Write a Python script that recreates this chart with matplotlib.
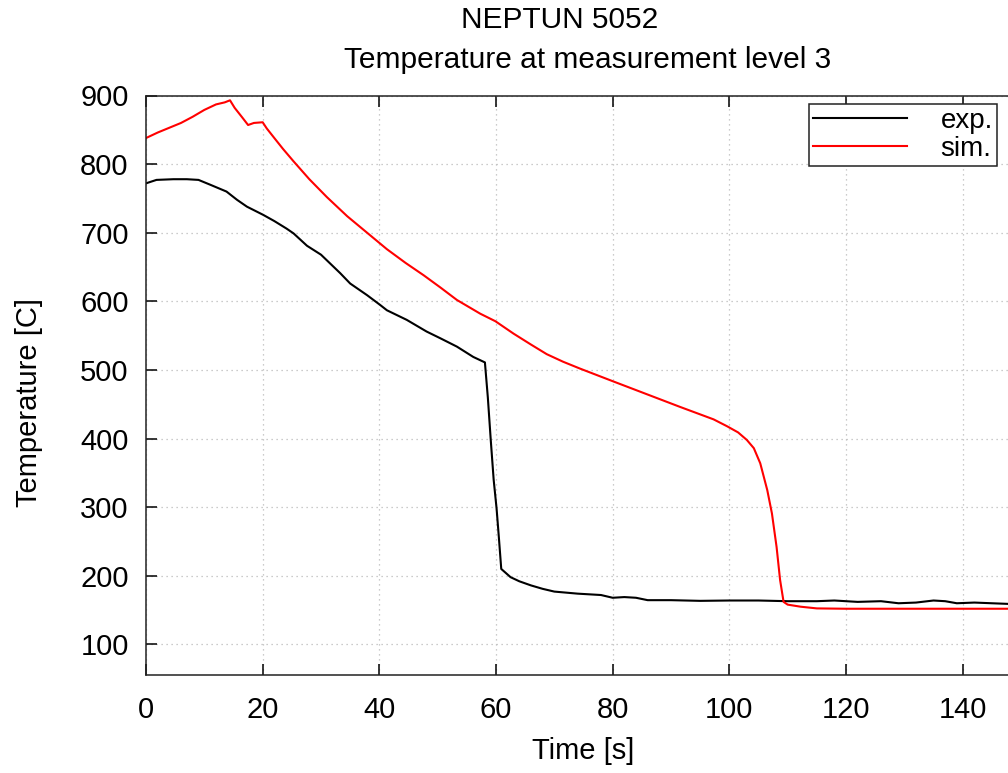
import matplotlib
matplotlib.use("Agg")
import matplotlib.pyplot as plt

# -----------------------
# Data
# -----------------------
t_exp = [0, 1.8, 4.7, 7, 9, 11, 13.8, 15.6, 17.3, 20.1, 22, 24.1, 25.3, 27.6,
         30, 33.3, 35, 37.9, 40.1, 41.3, 44.7, 48.1, 50.5, 53.3, 56.1, 58.1,
         58.6, 59.1, 59.6, 60.1, 60.5, 60.9, 62.5, 64, 66, 68, 70, 74, 78, 80,
         82, 84, 86, 90, 95, 100, 105, 110, 115, 118, 122, 126, 129, 132, 135,
         137, 139, 142, 145, 148, 150]
T_exp = [772, 777, 778, 778, 777, 770, 760, 748, 738, 726, 717, 706, 699, 681,
         668, 641, 626, 609, 595, 587, 573, 556, 546, 534, 519, 511,
         460, 398, 340, 298, 255, 210, 198, 192, 186, 181, 177, 174, 172, 168,
         169, 168, 164.5, 164.5, 163.5, 164, 164, 163, 163, 164, 162, 163, 160,
         161, 164, 163, 160, 161, 160, 159, 159]

t_sim = [0, 2, 4, 6, 8, 10, 12, 13.5, 14.4, 15.2, 16.5, 17.5, 18.5, 20, 20.7,
         22, 23.5, 25.3, 28, 31, 34.5, 37.9, 41.3, 44.5, 47.6, 50.5, 53.3,
         57.3, 59.9, 63, 66, 68.7, 71.5, 74.4, 80.2, 85.9, 91.6, 97.3, 99.6,
         101.5, 103, 104.2, 105.3, 106.5, 107.3, 108.1, 108.7, 109.3, 110,
         112.2, 115, 120, 150]
T_sim = [838, 846, 853, 860, 869, 879, 887, 890, 893, 882, 868, 857, 860, 861,
         852, 838, 822, 804, 778, 752, 724, 700, 676, 656, 638, 620, 602,
         582, 571, 553, 537, 523, 512, 502, 483, 464.5, 446, 428, 418,
         409, 398, 386, 364, 325, 291, 242, 194, 162, 158,
         155, 152.5, 152, 152]

x_ticks = [0, 20, 40, 60, 80, 100, 120, 140]
y_ticks = [100, 200, 300, 400, 500, 600, 700, 800, 900]

# -----------------------
# Style
# -----------------------
plt.rcParams['font.family'] = ['Liberation Sans', 'DejaVu Sans']
plt.rcParams['font.size'] = 20

fig = plt.figure(figsize=(10.08, 7.73), dpi=100)
# the reference is cropped on the right, so the axes run past the figure edge
ax = fig.add_axes([146 / 1008, 1 - 675.3 / 773, 875 / 1008, 579.8 / 773])

ax.plot(t_exp, T_exp, color='black', lw=1.5, label='exp.')
ax.plot(t_sim, T_sim, color='#ff0000', lw=1.5, label='sim.')

ax.set_xlim(0, 150)
ax.set_ylim(55, 900)
ax.set_xticks(x_ticks)
ax.set_yticks(y_ticks)
ax.tick_params(direction='in', length=8, width=1.1, top=True, right=True,
               labelsize=21, colors='black')
ax.tick_params(axis='x', pad=15)
ax.tick_params(axis='y', pad=12.5)
for s in ax.spines.values():
    s.set_linewidth(1.1)
    s.set_color('#222222')

ax.grid(True, color='#bbbbbb', linestyle=(0, (1, 3)), linewidth=0.9)
ax.set_axisbelow(True)

ax.set_xlabel('Time [s]', fontsize=21, labelpad=9)
ax.set_ylabel('Temperature [C]', fontsize=21)
ax.yaxis.set_label_coords(-0.118, 0.471)

fig.text(560 / 1008, 1 - 20 / 773, 'NEPTUN 5052', ha='center', va='center',
         fontsize=21.5)
fig.text(588 / 1008, 1 - 60 / 773, 'Temperature at measurement level 3',
         ha='center', va='center', fontsize=21.5)

leg = ax.legend(loc='upper right', bbox_to_anchor=((997 - 146) / 875, (675.3 - 104) / 579.8),
                borderaxespad=0, frameon=True, fancybox=False, fontsize=20,
                handlelength=3.4, handletextpad=1.2, borderpad=0.15,
                labelspacing=0.05)
leg.get_frame().set_edgecolor('#222222')
leg.get_frame().set_linewidth(1.1)
leg.get_frame().set_alpha(1)

fig.savefig('out.png', dpi=100)
